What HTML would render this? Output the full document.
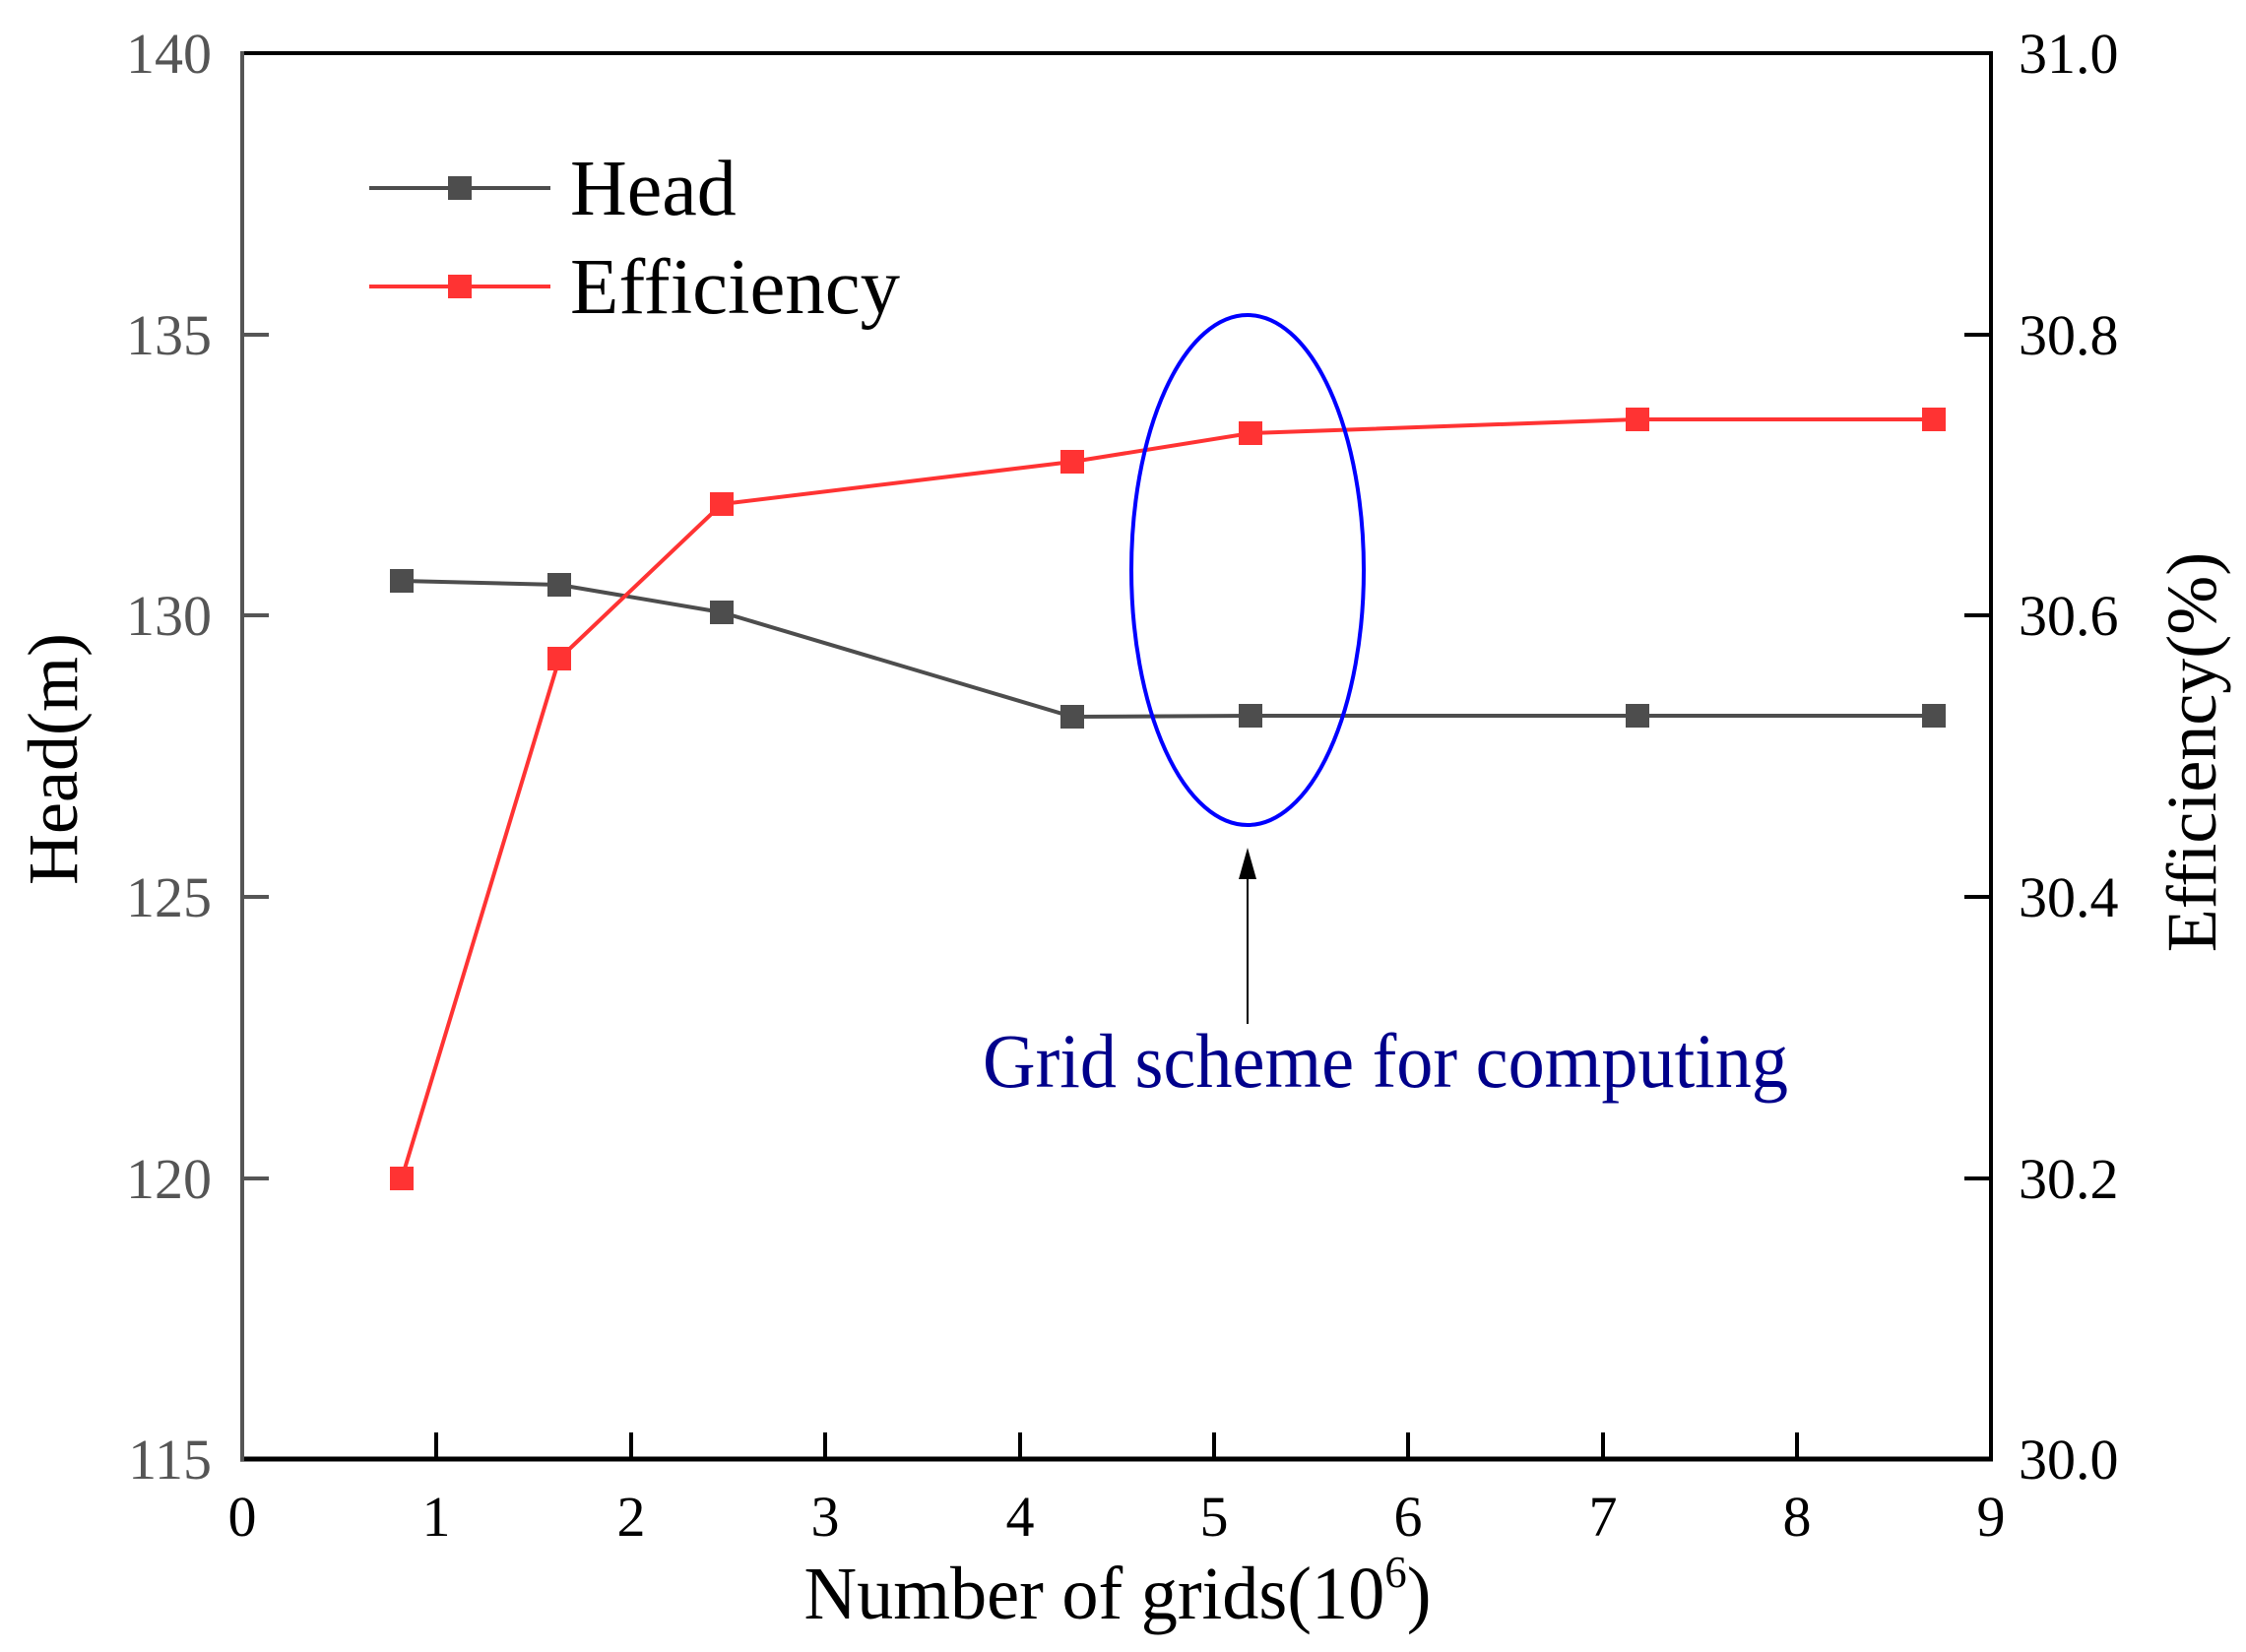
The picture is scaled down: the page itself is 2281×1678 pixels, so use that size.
<!DOCTYPE html>
<html><head><meta charset="utf-8"><style>body{margin:0;background:#fff}</style></head>
<body>
<svg width="2281" height="1673" viewBox="0 0 2281 1673" xmlns="http://www.w3.org/2000/svg" font-family="Liberation Serif, serif">
<rect width="2281" height="1673" fill="#fff"/>
<!-- axes -->
<line x1="246" y1="54" x2="2022" y2="54" stroke="#000" stroke-width="4"/>
<line x1="2022" y1="52" x2="2022" y2="1484" stroke="#000" stroke-width="4"/>
<line x1="244" y1="1482" x2="2024" y2="1482" stroke="#000" stroke-width="5"/>
<line x1="246" y1="52" x2="246" y2="1484" stroke="#555" stroke-width="4"/>
<g stroke="#000" stroke-width="4">
<line x1="443" y1="1482" x2="443" y2="1455"/><line x1="641" y1="1482" x2="641" y2="1455"/>
<line x1="838" y1="1482" x2="838" y2="1455"/><line x1="1036" y1="1482" x2="1036" y2="1455"/>
<line x1="1233" y1="1482" x2="1233" y2="1455"/><line x1="1430" y1="1482" x2="1430" y2="1455"/>
<line x1="1628" y1="1482" x2="1628" y2="1455"/><line x1="1825" y1="1482" x2="1825" y2="1455"/>
<line x1="2022" y1="340" x2="1995" y2="340"/><line x1="2022" y1="625" x2="1995" y2="625"/>
<line x1="2022" y1="911" x2="1995" y2="911"/><line x1="2022" y1="1197" x2="1995" y2="1197"/>
</g>
<g stroke="#555" stroke-width="4">
<line x1="246" y1="340" x2="273" y2="340"/><line x1="246" y1="625" x2="273" y2="625"/>
<line x1="246" y1="911" x2="273" y2="911"/><line x1="246" y1="1197" x2="273" y2="1197"/>
</g>
<!-- tick labels -->
<g font-size="58" fill="#555" text-anchor="end">
<text x="215" y="74">140</text><text x="215" y="360">135</text><text x="215" y="645">130</text>
<text x="215" y="931">125</text><text x="215" y="1217">120</text><text x="215" y="1502">115</text>
</g>
<g font-size="58" fill="#000">
<text x="2050" y="74">31.0</text><text x="2050" y="360">30.8</text><text x="2050" y="645">30.6</text>
<text x="2050" y="931">30.4</text><text x="2050" y="1217">30.2</text><text x="2050" y="1502">30.0</text>
</g>
<g font-size="58" fill="#000" text-anchor="middle">
<text x="246" y="1560">0</text><text x="443" y="1560">1</text><text x="641" y="1560">2</text>
<text x="838" y="1560">3</text><text x="1036" y="1560">4</text><text x="1233" y="1560">5</text>
<text x="1430" y="1560">6</text><text x="1628" y="1560">7</text><text x="1825" y="1560">8</text><text x="2022" y="1560">9</text>
</g>
<!-- axis titles -->
<text x="1135" y="1644" font-size="76" text-anchor="middle" textLength="637" lengthAdjust="spacingAndGlyphs">Number of grids(10<tspan font-size="46" dy="-32">6</tspan><tspan dy="32">)</tspan></text>
<text transform="translate(78,771) rotate(-90)" font-size="72" text-anchor="middle">Head(m)</text>
<text transform="translate(2250,764) rotate(-90)" font-size="72" text-anchor="middle">Efficiency(%)</text>
<!-- series -->
<polyline fill="none" stroke="#4d4d4d" stroke-width="4" points="408,590 568,594 733,622 1089,728 1270,727 1663,727 1964,727"/>
<g fill="#4d4d4d">
<rect x="396" y="578" width="24" height="24"/><rect x="556" y="582" width="24" height="24"/>
<rect x="721" y="610" width="24" height="24"/><rect x="1077" y="716" width="24" height="24"/>
<rect x="1258" y="715" width="24" height="24"/><rect x="1651" y="715" width="24" height="24"/>
<rect x="1952" y="715" width="24" height="24"/>
</g>
<polyline fill="none" stroke="#ff3333" stroke-width="4" points="408,1197 568,669 733,512 1089,469 1270,440 1663,426 1964,426"/>
<g fill="#ff3333">
<rect x="396" y="1185" width="24" height="24"/><rect x="556" y="657" width="24" height="24"/>
<rect x="721" y="500" width="24" height="24"/><rect x="1077" y="457" width="24" height="24"/>
<rect x="1258" y="428" width="24" height="24"/><rect x="1651" y="414" width="24" height="24"/>
<rect x="1952" y="414" width="24" height="24"/>
</g>
<!-- legend -->
<line x1="375" y1="191" x2="559" y2="191" stroke="#4d4d4d" stroke-width="4"/>
<rect x="455" y="179" width="24" height="24" fill="#4d4d4d"/>
<text x="579" y="218" font-size="80">Head</text>
<line x1="375" y1="291" x2="559" y2="291" stroke="#ff3333" stroke-width="4"/>
<rect x="455" y="279" width="24" height="24" fill="#ff3333"/>
<text x="579" y="318" font-size="80" textLength="335" lengthAdjust="spacingAndGlyphs">Efficiency</text>
<!-- annotation -->
<ellipse cx="1267" cy="579" rx="118" ry="259" fill="none" stroke="#0000ff" stroke-width="4"/>
<line x1="1267" y1="1040" x2="1267" y2="885" stroke="#000" stroke-width="2"/>
<polygon points="1267,861 1258,893 1276,893" fill="#000"/>
<text x="1407" y="1104" font-size="78" fill="#00008b" text-anchor="middle" textLength="818" lengthAdjust="spacingAndGlyphs">Grid scheme for computing</text>
</svg>
</body></html>
